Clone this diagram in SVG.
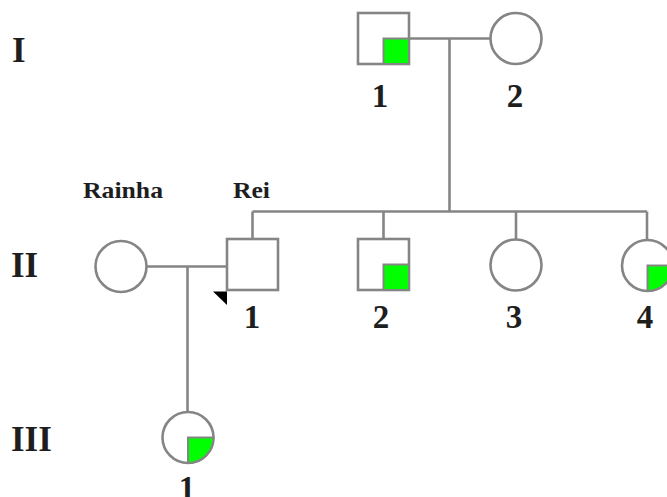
<svg xmlns="http://www.w3.org/2000/svg" width="667" height="497" viewBox="0 0 667 497">
  <style>
    .ln { stroke: #858585; stroke-width: 2.6; fill: none; }
    .sym { stroke: #858585; stroke-width: 2.6; fill: #ffffff; }
    .aff { stroke: #858585; stroke-width: 2; fill: #00ff00; }
    .gen { font-family: "Liberation Serif", "Times New Roman", serif; font-weight: bold; font-size: 35px; fill: #1e1e1e; }
    .num { font-family: "Liberation Serif", "Times New Roman", serif; font-weight: bold; font-size: 33px; fill: #1e1e1e; text-anchor: middle; }
    .name { font-family: "Liberation Serif", "Times New Roman", serif; font-weight: bold; font-size: 23px; fill: #1e1e1e; }
  </style>
  <rect width="667" height="497" fill="#ffffff"/>

  <!-- generation labels -->
  <g id="generations">
    <text class="gen" x="12" y="62">I</text>
    <text class="gen" x="11" y="277">II</text>
    <text class="gen" x="11" y="451">III</text>
  </g>

  <!-- connectors: couple lines, descent lines, sibship line -->
  <g id="connectors">
    <line class="ln" x1="409" y1="38.5" x2="490.5" y2="38.5"/>
    <line class="ln" x1="449.5" y1="38.5" x2="449.5" y2="211.5"/>
    <line class="ln" x1="252.5" y1="211.5" x2="647" y2="211.5"/>
    <line class="ln" x1="252.5" y1="211.5" x2="252.5" y2="239"/>
    <line class="ln" x1="383.5" y1="211.5" x2="383.5" y2="239"/>
    <line class="ln" x1="516" y1="211.5" x2="516" y2="239.5"/>
    <line class="ln" x1="647" y1="211.5" x2="647" y2="240"/>
    <line class="ln" x1="146.5" y1="266.5" x2="226.5" y2="266.5"/>
    <line class="ln" x1="187.5" y1="266.5" x2="187.5" y2="412"/>
  </g>

  <!-- I-1: male, carrier quadrant -->
  <g id="I-1">
    <rect class="sym" x="358" y="13" width="51" height="51"/>
    <rect class="aff" x="383.5" y="38.5" width="25.5" height="25.5"/>
    <text class="num" x="380" y="107">1</text>
  </g>

  <!-- I-2: female -->
  <g id="I-2">
    <circle class="sym" cx="516" cy="38.5" r="25.5"/>
    <text class="num" x="515" y="107">2</text>
  </g>

  <!-- Rainha -->
  <g id="Rainha">
    <circle class="sym" cx="121" cy="266.5" r="25.5"/>
    <text class="name" x="83" y="198" textLength="80" lengthAdjust="spacingAndGlyphs">Rainha</text>
  </g>

  <!-- II-1: Rei, proband -->
  <g id="II-1">
    <rect class="sym" x="227" y="239" width="51" height="51"/>
    <polygon points="213,291.5 227,291.5 227,305" fill="#000000"/>
    <text class="name" x="233" y="198" textLength="37" lengthAdjust="spacingAndGlyphs">Rei</text>
    <text class="num" x="252" y="328">1</text>
  </g>

  <!-- II-2: male, carrier quadrant -->
  <g id="II-2">
    <rect class="sym" x="358" y="239" width="51" height="51"/>
    <rect class="aff" x="383.5" y="264.5" width="25.5" height="25.5"/>
    <text class="num" x="381" y="328">2</text>
  </g>

  <!-- II-3: female -->
  <g id="II-3">
    <circle class="sym" cx="516" cy="265" r="25.5"/>
    <text class="num" x="514" y="328">3</text>
  </g>

  <!-- II-4: female, carrier quadrant -->
  <g id="II-4">
    <circle class="sym" cx="647.5" cy="265.5" r="25.5"/>
    <path class="aff" d="M647.5,265.5 L673,265.5 A25.5,25.5 0 0 1 647.5,291 Z"/>
    <text class="num" x="645" y="328">4</text>
  </g>

  <!-- III-1: female, carrier quadrant -->
  <g id="III-1">
    <circle class="sym" cx="188" cy="437.5" r="25.5"/>
    <path class="aff" d="M188,437.5 L213.5,437.5 A25.5,25.5 0 0 1 188,463 Z"/>
    <text class="num" x="187" y="499">1</text>
  </g>
</svg>
